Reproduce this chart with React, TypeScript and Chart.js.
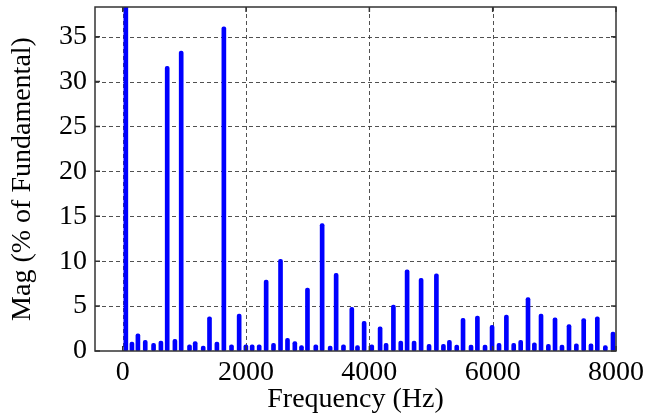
import React, { useEffect, useRef } from 'react';
import { Chart, registerables } from 'chart.js';

Chart.register(...registerables);

// Harmonic frequencies (Hz)
const frequencies = [
  50, 149, 246, 365, 500, 619, 721, 846, 948, 1083,
  1175, 1305, 1407, 1527, 1640, 1764, 1888, 1997, 2099, 2213,
  2326, 2445, 2559, 2672, 2791, 2899, 2996, 3131, 3234, 3364,
  3461, 3580, 3715, 3807, 3915, 4039, 4174, 4271, 4390, 4509,
  4612, 4725, 4839, 4968, 5087, 5201, 5298, 5417, 5519, 5649,
  5752, 5876, 5990, 6103, 6222, 6341, 6454, 6573, 6676, 6784,
  6903, 7011, 7124, 7238, 7357, 7476, 7594, 7697, 7827, 7951,
];

// Magnitudes (% of fundamental)
const magnitudes = [
  100, 1.0, 1.9, 1.2, 0.85, 1.1, 31.7, 1.3, 33.4, 0.7,
  1.05, 0.55, 3.8, 1.0, 36.1, 0.7, 4.1, 0.7, 0.7, 0.7,
  7.9, 0.85, 10.2, 1.4, 1.05, 0.6, 7.0, 0.7, 14.2, 0.55,
  8.65, 0.7, 4.85, 0.6, 3.3, 0.7, 2.7, 0.85, 5.1, 1.1,
  9.05, 1.1, 8.1, 0.75, 8.6, 0.75, 1.2, 0.65, 3.65, 0.65,
  3.9, 0.65, 2.85, 0.85, 4.0, 0.85, 1.2, 5.95, 0.9, 4.1,
  0.75, 3.7, 0.65, 2.95, 0.8, 3.6, 0.8, 3.8, 0.6, 2.1,
];

const xTicks = [0, 2000, 4000, 6000, 8000];
const yTicks = [0, 5, 10, 15, 20, 25, 30, 35];
const xMin = -450;
const xMax = 8000;
const yMin = 0;
const yMax = 38.3;
const xLabel = 'Frequency (Hz)';
const yLabel = 'Mag (% of Fundamental)';

const FONT = "'Liberation Serif', 'Times New Roman', Times, serif";

const framePlugin = {
  id: 'frame',
  beforeDatasetsDraw(chart: any) {
    const { ctx, chartArea: a, scales } = chart;
    ctx.save();
    ctx.strokeStyle = 'rgba(50,50,50,0.85)';
    ctx.lineWidth = 1;
    ctx.setLineDash([4, 3]);
    for (const v of xTicks) {
      const px = Math.round(scales.x.getPixelForValue(v)) + 0.5;
      if (px > a.left + 2 && px < a.right - 2) {
        ctx.beginPath();
        ctx.moveTo(px, a.top);
        ctx.lineTo(px, a.bottom);
        ctx.stroke();
      }
    }
    for (const v of yTicks) {
      const py = Math.round(scales.y.getPixelForValue(v)) + 0.5;
      if (py > a.top + 2 && py < a.bottom - 2) {
        ctx.beginPath();
        ctx.moveTo(a.left, py);
        ctx.lineTo(a.right, py);
        ctx.stroke();
      }
    }
    ctx.restore();
  },
  afterDatasetsDraw(chart: any) {
    const { ctx, chartArea: a, scales } = chart;
    ctx.save();
    ctx.setLineDash([]);
    ctx.strokeStyle = '#333';
    ctx.lineWidth = 1.5;
    ctx.strokeRect(a.left, a.top, a.right - a.left, a.bottom - a.top);
    const tl = 5;
    ctx.beginPath();
    for (const v of xTicks) {
      const px = scales.x.getPixelForValue(v);
      ctx.moveTo(px, a.bottom);
      ctx.lineTo(px, a.bottom - tl);
      ctx.moveTo(px, a.top);
      ctx.lineTo(px, a.top + tl);
    }
    for (const v of yTicks) {
      const py = scales.y.getPixelForValue(v);
      ctx.moveTo(a.left, py);
      ctx.lineTo(a.left + tl, py);
      ctx.moveTo(a.right, py);
      ctx.lineTo(a.right - tl, py);
    }
    ctx.stroke();
    ctx.restore();
  },
};

export default function App() {
  const canvasRef = useRef<HTMLCanvasElement | null>(null);

  useEffect(() => {
    const canvas = canvasRef.current;
    if (!canvas) return;
    const chart = new Chart(canvas, {
      type: 'bar',
      data: {
        datasets: [
          {
            data: frequencies.map((f, i) => ({ x: f, y: magnitudes[i] })),
            backgroundColor: '#0000ff',
            borderWidth: 0,
            barThickness: 4,
            borderRadius: 2,
            borderSkipped: false,
          } as any,
        ],
      },
      options: {
        responsive: false,
        animation: false,
        devicePixelRatio: 1,
        layout: { padding: { left: 0, right: 29, top: 7, bottom: 0 } },
        plugins: {
          legend: { display: false },
          tooltip: { enabled: false },
          title: { display: false },
        },
        scales: {
          x: {
            type: 'linear',
            offset: false,
            min: xMin,
            max: xMax,
            grid: { display: false, drawTicks: false, offset: false },
            border: { display: false },
            ticks: {
              font: { family: FONT, size: 28 },
              color: '#000',
              padding: 5,
              maxRotation: 0,
              autoSkip: false,
              callback: (v: any) => String(v),
            },
            afterBuildTicks: (s: any) => {
              s.ticks = xTicks.map((v) => ({ value: v }));
            },
            afterFit: (s: any) => {
              s.height = 65;
              s.paddingLeft = 0;
              s.paddingRight = 0;
            },
            title: {
              display: true,
              text: xLabel,
              font: { family: FONT, size: 28 },
              color: '#000',
              padding: { top: 0, bottom: 0 },
            },
          },
          y: {
            type: 'linear',
            min: yMin,
            max: yMax,
            grid: { display: false, drawTicks: false },
            border: { display: false },
            ticks: {
              font: { family: FONT, size: 28 },
              color: '#000',
              padding: 8,
              autoSkip: false,
              callback: (v: any) => String(v),
            },
            afterBuildTicks: (s: any) => {
              s.ticks = yTicks.map((v) => ({ value: v }));
            },
            afterFit: (s: any) => {
              s.width = 95;
              s.paddingTop = 0;
              s.paddingBottom = 0;
            },
            title: {
              display: true,
              text: yLabel,
              font: { family: FONT, size: 28 },
              color: '#000',
              padding: { top: 6, bottom: 0 },
            },
          },
        },
      } as any,
      plugins: [framePlugin],
    });
    return () => chart.destroy();
  }, []);

  return (
    <div style={{ position: 'fixed', left: 0, top: 0, width: 645, height: 416, background: '#fff' }}>
      <canvas ref={canvasRef} width={645} height={416} style={{ width: 645, height: 416 }} />
    </div>
  );
}
